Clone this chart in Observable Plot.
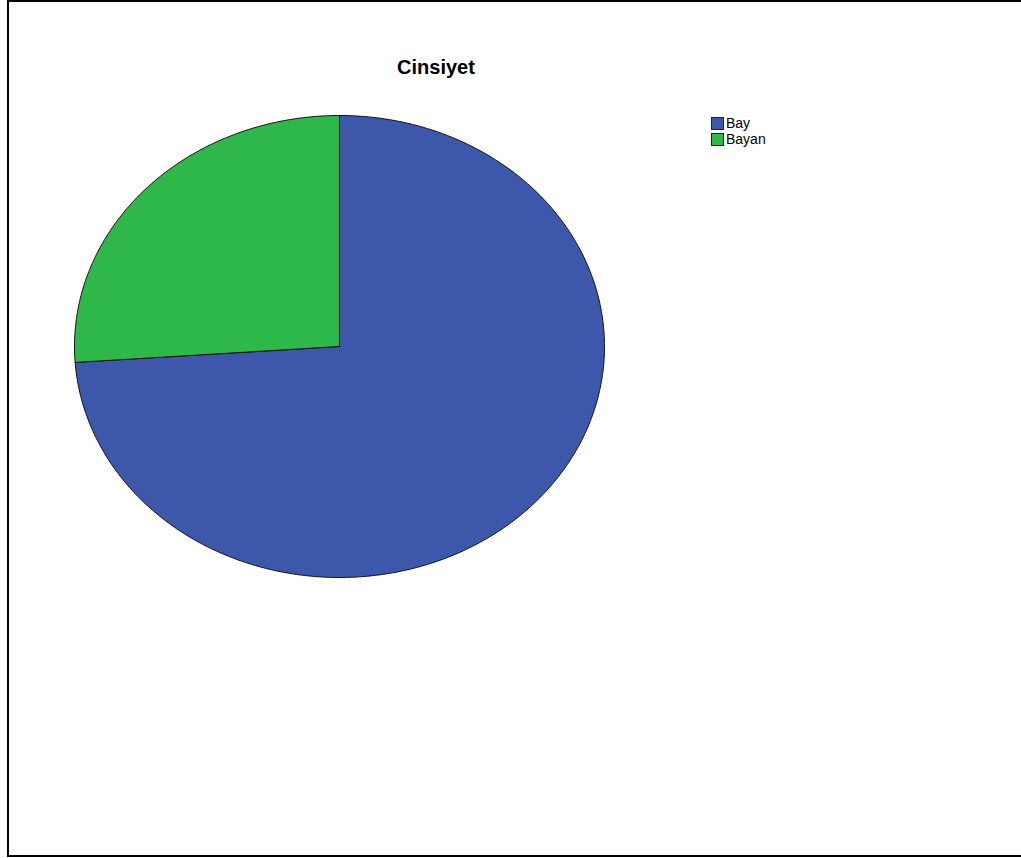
<!DOCTYPE html>
<html>
<head>
<meta charset="utf-8">
<script src="https://cdn.jsdelivr.net/npm/d3@7"></script>
<script src="https://cdn.jsdelivr.net/npm/@observablehq/plot@0.6"></script>
<style>
  html, body { margin: 0; padding: 0; background: #fff; }
  #page { position: relative; width: 1021px; height: 858px; overflow: hidden; font-family: "Liberation Sans", Arial, sans-serif; }
  #frame { position: absolute; left: 7px; top: 0px; width: 1100px; height: 857px; border-left: 2px solid #000; border-top: 2px solid #000; border-bottom: 2px solid #000; box-sizing: border-box; }
  #title { position: absolute; left: 336px; width: 200px; top: 56px; text-align: center; font-weight: bold; font-size: 20px; color: #000; }
  #legend { position: absolute; left: 711px; top: 115px; font-size: 14px; color: #000; }
  .item { display: flex; align-items: center; height: 16px; }
  .sw { width: 11px; height: 11px; border: 1px solid #222; margin-right: 2px; }
  #chart { position: absolute; left: 71px; top: 112px; }
</style>
</head>
<body>
<div id="page">
  <div id="frame"></div>
  <div id="title">Cinsiyet</div>
  <div id="legend"></div>
  <div id="chart"></div>
</div>
<script>
const categories = ["Bay", "Bayan"];
const values = [73.9, 26.1];
const colors = ["#3d58aa", "#2eb84a"];

// Build slice outlines (clockwise from 12 o'clock, Bay first) in unit-ellipse space
const pie = d3.pie().sort(null).value(d => d.value);
const arcs = pie(categories.map((c, i) => ({category: c, value: values[i]})));
const pts = [];
arcs.forEach(a => {
  const c = a.data.category;
  pts.push({category: c, x: 0, y: 0});
  const n = Math.max(2, Math.ceil((a.endAngle - a.startAngle) / 0.01));
  for (let k = 0; k <= n; k++) {
    const t = a.startAngle + (a.endAngle - a.startAngle) * k / n;
    pts.push({category: c, x: Math.sin(t), y: Math.cos(t)});
  }
  pts.push({category: c, x: 0, y: 0});
});

const W = 536, H = 468, M = 3;
const chart = Plot.plot({
  width: W,
  height: H,
  margin: M,
  x: {domain: [-1, 1], axis: null},
  y: {domain: [-1, 1], axis: null},
  color: {domain: categories, range: colors},
  marks: [
    Plot.line(pts, {x: "x", y: "y", z: "category", fill: "category", stroke: "#111", strokeWidth: 1, curve: "linear-closed"})
  ]
});
document.getElementById("chart").appendChild(chart);

const legend = document.getElementById("legend");
categories.forEach((c, i) => {
  const d = document.createElement("div");
  d.className = "item";
  d.innerHTML = `<span class="sw" style="background:${colors[i]}"></span><span>${c}</span>`;
  legend.appendChild(d);
});
</script>
</body>
</html>
